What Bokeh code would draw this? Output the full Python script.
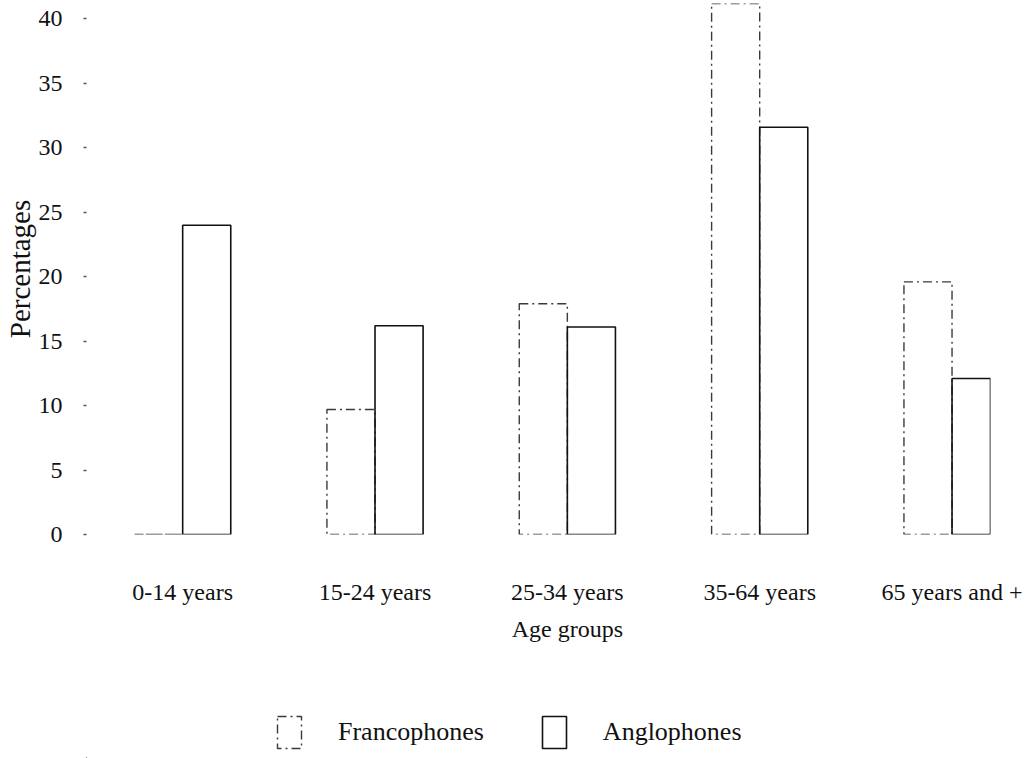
from bokeh.plotting import figure
from bokeh.layouts import column
from bokeh.models import (Range1d, FixedTicker, LinearAxis, Legend, LegendItem,
                          ColumnDataSource)
from bokeh.embed import file_html
from bokeh.resources import INLINE

# ---- data ----
age_groups = ["0-14 years", "15-24 years", "25-34 years", "35-64 years", "65 years and +"]
francophones = [0.0, 9.7, 17.9, 52.8, 19.6]
anglophones = [24.0, 16.2, 16.1, 31.6, 12.1]
series_names = ["Francophones", "Anglophones"]
y_ticks = [0, 5, 10, 15, 20, 25, 30, 35, 40]

FONT = "Liberation Serif"
pos = list(range(len(age_groups)))
STYLE_F = dict(fill_color="white", fill_alpha=0.0, line_color="#3a3a3a",
               line_width=1.4, line_dash="9 4 2 4", line_cap="butt")
STYLE_A = dict(fill_color="white", fill_alpha=0.0, line_color="#111111",
               line_width=1.6, line_cap="butt")

src = ColumnDataSource(dict(
    x_f=[i - 0.125 for i in pos], x_a=[i + 0.125 for i in pos],
    fr=francophones, an=anglophones))

p = figure(width=1036, height=690,
           x_range=Range1d(-0.5, 4.2), y_range=Range1d(0, 41.2),
           output_backend="svg", toolbar_location=None,
           min_border_left=85, min_border_right=46,
           min_border_top=3, min_border_bottom=156)
p.grid.visible = False
p.outline_line_color = None
p.background_fill_color = "white"
p.border_fill_color = "white"

p.vbar(x="x_f", top="fr", bottom=0, width=0.25, source=src, **STYLE_F)
p.vbar(x="x_a", top="an", bottom=0, width=0.25, source=src, **STYLE_A)

# x axis (category labels)
xa = p.xaxis[0]
xa.ticker = FixedTicker(ticks=pos)
xa.major_label_overrides = {i: lab for i, lab in zip(pos, age_groups)}
xa.axis_line_color = None
xa.major_tick_line_color = None
xa.minor_tick_line_color = None
xa.major_label_standoff = 38
xa.major_label_text_font = FONT
xa.major_label_text_font_size = "24px"
xa.major_label_text_color = "#111111"

# second axis below carrying the axis title centred on the middle group
xa2 = LinearAxis(ticker=FixedTicker(ticks=[2]),
                 major_label_overrides={2: "Age groups"})
xa2.axis_line_color = None
xa2.major_tick_line_color = None
xa2.minor_tick_line_color = None
xa2.major_label_standoff = 2
xa2.major_label_text_font = FONT
xa2.major_label_text_font_size = "24px"
xa2.major_label_text_color = "#111111"
p.add_layout(xa2, "below")

# y axis
ya = p.yaxis[0]
ya.ticker = FixedTicker(ticks=y_ticks)
ya.axis_line_color = None
ya.major_tick_in = 0
ya.major_tick_out = 3
ya.major_tick_line_color = "#555555"
ya.major_tick_line_width = 1.5
ya.minor_tick_line_color = None
ya.major_label_standoff = 21
ya.major_label_text_font = FONT
ya.major_label_text_font_size = "24px"
ya.major_label_text_color = "#111111"
ya.axis_label = "Percentages"
ya.axis_label_standoff = 0
ya.axis_label_text_font = FONT
ya.axis_label_text_font_size = "29px"
ya.axis_label_text_font_style = "normal"
ya.axis_label_text_color = "#111111"

# legend strip below the chart: same styled renderers, viewed far off-range
lg = figure(width=1036, height=68, x_range=Range1d(10, 11),
            y_range=Range1d(1000, 1001),
            output_backend="svg", toolbar_location=None, min_border=0)
lg.axis.visible = False
lg.grid.visible = False
lg.outline_line_color = None
lg.border_fill_color = "white"
lg.background_fill_color = "white"
g_f = lg.vbar(x="x_f", top="fr", bottom=0, width=0.25, source=src, **STYLE_F)
g_a = lg.vbar(x="x_a", top="an", bottom=0, width=0.25, source=src, **STYLE_A)

legend = Legend(items=[LegendItem(label=series_names[0], renderers=[g_f]),
                       LegendItem(label=series_names[1], renderers=[g_a])],
                location=(188, 6), orientation="horizontal",
                glyph_width=30, glyph_height=40, label_standoff=34,
                spacing=55, padding=0, margin=0,
                border_line_alpha=0, background_fill_alpha=0,
                label_text_font=FONT, label_text_font_size="26px",
                label_text_color="#111111")
lg.add_layout(legend, "center")

layout = column(p, lg, spacing=0)
open("out.html", "w").write(file_html(layout, INLINE))
